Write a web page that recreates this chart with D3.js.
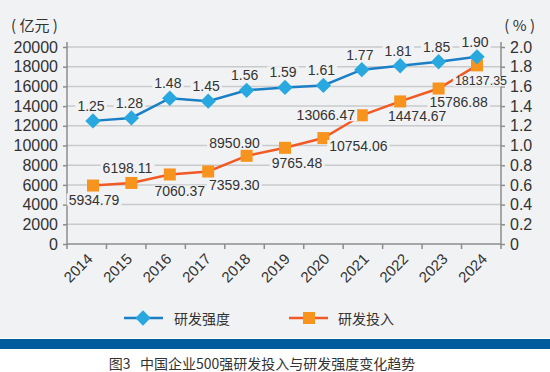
<!DOCTYPE html>
<html><head><meta charset="utf-8">
<script src="https://cdn.jsdelivr.net/npm/d3@7/dist/d3.min.js"></script>
<style>body{margin:0;background:#fff}svg{display:block}</style>
</head><body>
<svg id="c" width="550" height="372"></svg>
<script>
const years = ["2014","2015","2016","2017","2018","2019","2020","2021","2022","2023","2024"];
const intensity = [1.25,1.28,1.48,1.45,1.56,1.59,1.61,1.77,1.81,1.85,1.90];
const investment = [5934.79,6198.11,7060.37,7359.30,8950.90,9765.48,10754.06,13066.47,14474.67,15786.88,18137.35];
const leftTicks = [0,2000,4000,6000,8000,10000,12000,14000,16000,18000,20000];
const rightTicks = [0,0.2,0.4,0.6,0.8,1.0,1.2,1.4,1.6,1.8,2.0];
const seriesNames = ["研发强度","研发投入"];
const unitLeft = "( 亿元 )";
const unitRight = "( % )";
const caption = "图3\u00a0\u00a0\u00a0中国企业500强研发投入与研发强度变化趋势";

const BG = "#f1f2f4";
const svg = d3.select("#c");
const NUM = "'Liberation Sans', Arial, sans-serif";
const CJK = "'Noto Sans CJK SC', sans-serif";

svg.append("rect").attr("width",550).attr("height",338).attr("fill",BG);
svg.append("rect").attr("y",339).attr("width",550).attr("height",10).attr("fill","#005b9c");

const L = 67, R = 501, T = 47, B = 244;
const xBand = d3.scaleBand().domain(years).range([L,R]);
const xPt = d3.scalePoint().domain(years).range([93,477]);
const yL = d3.scaleLinear().domain([0,20000]).range([B,T]);
const yR = d3.scaleLinear().domain([0,2]).range([B,T]);

// gridlines
svg.append("g").selectAll("line").data(leftTicks.slice(1)).join("line")
  .attr("x1",L).attr("x2",R).attr("y1",d=>yL(d)).attr("y2",d=>yL(d))
  .attr("stroke","#c9cacc").attr("stroke-width",1.5);

const axisColor = "#8c8c8c";
// left axis
const gL = svg.append("g").attr("transform",`translate(${L},0)`)
  .call(d3.axisLeft(yL).tickValues(leftTicks).tickSize(4).tickFormat(d3.format("d")));
gL.select(".domain").remove();
gL.selectAll("line").attr("stroke",axisColor).attr("stroke-width",1.5);
gL.selectAll("text").attr("x",-9).attr("font-family",NUM).attr("font-size",16).attr("fill","#333");
svg.append("line").attr("x1",L).attr("x2",L).attr("y1",42).attr("y2",B+1).attr("stroke",axisColor).attr("stroke-width",1.5);

// right axis
const gR = svg.append("g").attr("transform",`translate(${R},0)`)
  .call(d3.axisRight(yR).tickValues(rightTicks).tickSize(4).tickFormat(d=> d===0 ? "0" : d3.format(".1f")(d)));
gR.select(".domain").remove();
gR.selectAll("line").attr("stroke",axisColor).attr("stroke-width",1.5);
gR.selectAll("text").attr("x",9).attr("font-family",NUM).attr("font-size",16).attr("fill","#333");
svg.append("line").attr("x1",R).attr("x2",R).attr("y1",42).attr("y2",B+1).attr("stroke",axisColor).attr("stroke-width",1.5);

// bottom axis
const tickXs = years.map(y=>xBand(y)).concat([R]);
svg.append("line").attr("x1",L).attr("x2",R).attr("y1",B).attr("y2",B).attr("stroke",axisColor).attr("stroke-width",1.5);
svg.append("g").selectAll("line").data(tickXs).join("line")
  .attr("x1",d=>d).attr("x2",d=>d).attr("y1",B).attr("y2",B+5)
  .attr("stroke",axisColor).attr("stroke-width",1.5);
svg.append("g").selectAll("text").data(years).join("text")
  .attr("transform",d=>`translate(${xBand(d)+xBand.bandwidth()/2+3},${B+12}) rotate(-45)`)
  .attr("text-anchor","end").attr("dominant-baseline","central")
  .attr("font-family",NUM).attr("font-size",15).attr("fill","#333").text(d=>d);

// unit titles
svg.append("text").attr("x",11).attr("y",24).attr("dominant-baseline","central").attr("xml:space","preserve")
  .attr("font-family",CJK).attr("font-size",15).attr("fill","#333").text(unitLeft);
svg.append("text").attr("x",535).attr("y",24).attr("text-anchor","end").attr("dominant-baseline","central")
  .attr("font-family",CJK).attr("font-size",15).attr("fill","#333").text(unitRight);

const blueLine = "#1b7fc6", blueMark = "#29a8e0";
const redLine = "#f15a24", orangeMark = "#f7941e";

// investment line
svg.append("path").datum(investment)
  .attr("d", d3.line().x((d,i)=>xPt(years[i])).y(d=>yL(d)))
  .attr("fill","none").attr("stroke",redLine).attr("stroke-width",2.5);
// intensity line
svg.append("path").datum(intensity)
  .attr("d", d3.line().x((d,i)=>xPt(years[i])).y(d=>yR(d)))
  .attr("fill","none").attr("stroke",blueLine).attr("stroke-width",2.5);

// markers
svg.append("g").selectAll("rect").data(investment).join("rect")
  .attr("x",(d,i)=>xPt(years[i])-6).attr("y",d=>yL(d)-6).attr("width",12).attr("height",12)
  .attr("fill",orangeMark);
const diamond = d3.symbol().type(d3.symbolDiamond2).size(150);
svg.append("g").selectAll("path").data(intensity).join("path")
  .attr("transform",(d,i)=>`translate(${xPt(years[i])},${yR(d)})`)
  .attr("d",diamond).attr("fill",blueMark);

// labels
function label(x,y,txt,size){
  const g = svg.append("g");
  const t = g.append("text").attr("x",x).attr("y",y).attr("text-anchor","middle")
    .attr("dominant-baseline","central").attr("font-family",NUM).attr("font-size",size).attr("fill","#333").text(txt);
  const bb = t.node().getBBox();
  g.insert("rect","text").attr("x",bb.x-2).attr("y",bb.y+2).attr("width",bb.width+4).attr("height",bb.height-4).attr("fill",BG);
}
const invOffsets = [[1,14],[-4,-15],[10,17],[26,13],[-12,-13],[12,15],[35,8],[-36,0],[17,15],[20,14],[4,16]];
investment.forEach((v,i)=>{
  label(xPt(years[i])+invOffsets[i][0], yL(v)+invOffsets[i][1], d3.format(".2f")(v), i===10?12.5:14);
});
intensity.forEach((v,i)=>{
  label(xPt(years[i])-2, yR(v)-15, d3.format(".2f")(v), 14);
});

// legend
const lg = svg.append("g");
lg.append("line").attr("x1",124).attr("x2",163).attr("y1",318).attr("y2",318).attr("stroke",blueLine).attr("stroke-width",2.5);
lg.append("path").attr("transform","translate(143,318)").attr("d",diamond).attr("fill",blueMark);
lg.append("text").attr("x",174).attr("y",318).attr("dominant-baseline","central")
  .attr("font-family",CJK).attr("font-size",14).attr("fill","#333").text(seriesNames[0]);
lg.append("line").attr("x1",289).attr("x2",328).attr("y1",318).attr("y2",318).attr("stroke",redLine).attr("stroke-width",2.5);
lg.append("rect").attr("x",303).attr("y",312).attr("width",12).attr("height",12).attr("fill",orangeMark);
lg.append("text").attr("x",338).attr("y",318).attr("dominant-baseline","central")
  .attr("font-family",CJK).attr("font-size",14).attr("fill","#333").text(seriesNames[1]);

// caption
svg.append("text").attr("x",262).attr("y",363).attr("text-anchor","middle").attr("dominant-baseline","central")
  .attr("font-family",CJK).attr("font-size",14).attr("fill","#333").text(caption);
</script>
</body></html>
